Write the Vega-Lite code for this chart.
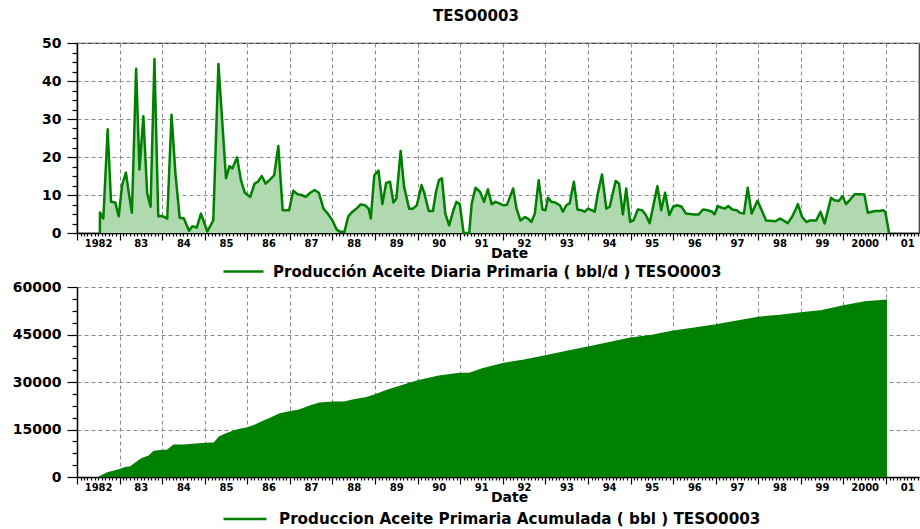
{
  "$schema": "https://vega.github.io/schema/vega-lite/v6.json",
  "padding": {"left": 12, "top": 9, "right": 0, "bottom": 0},
  "background": "white",
  "title": {"text": "TESO0003", "font": "DejaVu Sans", "fontSize": 15, "fontWeight": "bold", "color": "#000", "anchor": "middle", "offset": 11, "dx": 10},
  "config": {
    "axis": {"labelFont": "DejaVu Sans", "labelFontWeight": "bold", "labelColor": "#000", "domainColor": "#000", "domainWidth": 1.5, "tickColor": "#000", "tickWidth": 1.2, "gridColor": "#8a8a8a", "gridDash": [4, 3], "gridWidth": 1, "titleFont": "DejaVu Sans", "titleFontWeight": "bold", "titleColor": "#000"}
  },
  "datasets": {
    "daily": [
      {"date": "1982-07-16", "v": 0}, {"date": "1982-07-17", "v": 5.4}, {"date": "1982-08-15", "v": 3.8}, {"date": "1982-09-21", "v": 27.3}, {"date": "1982-10-20", "v": 8.2}, {"date": "1982-11-25", "v": 8.0}, {"date": "1982-12-25", "v": 4.4},
      {"date": "1983-01-23", "v": 12.6}, {"date": "1983-02-25", "v": 15.9}, {"date": "1983-03-19", "v": 11.0}, {"date": "1983-04-17", "v": 5.3}, {"date": "1983-05-23", "v": 43.2}, {"date": "1983-06-21", "v": 16.7}, {"date": "1983-07-24", "v": 30.7}, {"date": "1983-08-26", "v": 10.4}, {"date": "1983-09-24", "v": 6.9}, {"date": "1983-10-27", "v": 45.8}, {"date": "1983-11-29", "v": 4.4},
      {"date": "1984-01-01", "v": 4.5}, {"date": "1984-02-14", "v": 3.8}, {"date": "1984-03-22", "v": 31.1}, {"date": "1984-04-24", "v": 15.7}, {"date": "1984-05-31", "v": 4.0}, {"date": "1984-07-06", "v": 3.8}, {"date": "1984-08-19", "v": 0.6}, {"date": "1984-09-17", "v": 1.8}, {"date": "1984-10-24", "v": 1.4}, {"date": "1984-11-29", "v": 5.1},
      {"date": "1985-01-23", "v": 0.4}, {"date": "1985-03-15", "v": 3.3}, {"date": "1985-04-28", "v": 44.5}, {"date": "1985-07-02", "v": 14.4}, {"date": "1985-08-01", "v": 17.6}, {"date": "1985-08-26", "v": 17.0}, {"date": "1985-10-05", "v": 19.9}, {"date": "1985-11-07", "v": 13.9}, {"date": "1985-12-10", "v": 10.6},
      {"date": "1986-01-26", "v": 9.5}, {"date": "1986-03-04", "v": 13.0}, {"date": "1986-04-02", "v": 13.5}, {"date": "1986-05-05", "v": 15.0}, {"date": "1986-06-07", "v": 13.0}, {"date": "1986-07-10", "v": 13.9}, {"date": "1986-08-19", "v": 15.2}, {"date": "1986-09-24", "v": 22.9}, {"date": "1986-10-31", "v": 6.0}, {"date": "1986-12-25", "v": 6.0},
      {"date": "1987-01-30", "v": 11.1}, {"date": "1987-03-08", "v": 10.2}, {"date": "1987-04-10", "v": 10.0}, {"date": "1987-05-16", "v": 9.5}, {"date": "1987-06-25", "v": 10.6}, {"date": "1987-08-01", "v": 11.3}, {"date": "1987-09-06", "v": 10.6}, {"date": "1987-10-16", "v": 6.4}, {"date": "1987-11-22", "v": 5.1},
      {"date": "1988-01-01", "v": 3.3}, {"date": "1988-02-06", "v": 0.9}, {"date": "1988-03-08", "v": 0.3}, {"date": "1988-04-13", "v": 0.3}, {"date": "1988-05-16", "v": 4.4}, {"date": "1988-06-21", "v": 5.6}, {"date": "1988-07-24", "v": 6.4}, {"date": "1988-08-30", "v": 7.5}, {"date": "1988-10-05", "v": 7.3}, {"date": "1988-11-07", "v": 6.4}, {"date": "1988-11-25", "v": 3.8}, {"date": "1988-12-25", "v": 15.2},
      {"date": "1989-01-30", "v": 16.4}, {"date": "1989-03-04", "v": 7.6}, {"date": "1989-04-06", "v": 13.2}, {"date": "1989-05-09", "v": 13.5}, {"date": "1989-06-07", "v": 8.0}, {"date": "1989-07-02", "v": 9.0}, {"date": "1989-08-08", "v": 21.6}, {"date": "1989-09-06", "v": 12.2}, {"date": "1989-10-20", "v": 6.4}, {"date": "1989-11-22", "v": 6.4}, {"date": "1989-12-25", "v": 7.3},
      {"date": "1990-02-03", "v": 12.6}, {"date": "1990-02-28", "v": 10.4}, {"date": "1990-04-06", "v": 5.8}, {"date": "1990-05-12", "v": 5.8}, {"date": "1990-06-07", "v": 10.8}, {"date": "1990-07-02", "v": 13.9}, {"date": "1990-07-28", "v": 14.4}, {"date": "1990-08-26", "v": 5.1}, {"date": "1990-09-28", "v": 2.0}, {"date": "1990-11-04", "v": 6.0}, {"date": "1990-11-29", "v": 8.2}, {"date": "1990-12-28", "v": 7.6},
      {"date": "1991-01-30", "v": 0}, {"date": "1991-03-19", "v": 0}, {"date": "1991-04-10", "v": 7.8}, {"date": "1991-05-12", "v": 11.9}, {"date": "1991-06-21", "v": 10.8}, {"date": "1991-07-24", "v": 8.2}, {"date": "1991-08-26", "v": 11.5}, {"date": "1991-09-28", "v": 7.6}, {"date": "1991-10-31", "v": 8.2}, {"date": "1991-12-03", "v": 7.8},
      {"date": "1992-01-04", "v": 7.3}, {"date": "1992-02-06", "v": 7.4}, {"date": "1992-03-30", "v": 11.7}, {"date": "1992-04-28", "v": 6.4}, {"date": "1992-05-31", "v": 3.3}, {"date": "1992-07-10", "v": 4.2}, {"date": "1992-08-04", "v": 3.8}, {"date": "1992-09-02", "v": 2.9}, {"date": "1992-10-02", "v": 5.1}, {"date": "1992-11-04", "v": 13.9}, {"date": "1992-12-06", "v": 6.2},
      {"date": "1993-01-01", "v": 6.0}, {"date": "1993-01-23", "v": 9.3}, {"date": "1993-02-21", "v": 8.2}, {"date": "1993-03-26", "v": 8.0}, {"date": "1993-05-05", "v": 7.3}, {"date": "1993-05-31", "v": 5.6}, {"date": "1993-06-29", "v": 7.3}, {"date": "1993-07-28", "v": 7.8}, {"date": "1993-09-02", "v": 13.5}, {"date": "1993-10-02", "v": 6.2}, {"date": "1993-11-04", "v": 6.0}, {"date": "1993-12-03", "v": 5.6},
      {"date": "1994-01-01", "v": 6.4}, {"date": "1994-01-30", "v": 6.0}, {"date": "1994-02-28", "v": 5.6}, {"date": "1994-03-26", "v": 10.4}, {"date": "1994-05-01", "v": 15.4}, {"date": "1994-06-07", "v": 6.4}, {"date": "1994-07-06", "v": 6.9}, {"date": "1994-08-26", "v": 13.7}, {"date": "1994-09-24", "v": 13.0}, {"date": "1994-10-27", "v": 4.9}, {"date": "1994-11-25", "v": 11.7}, {"date": "1994-12-28", "v": 2.9},
      {"date": "1995-01-26", "v": 3.3}, {"date": "1995-03-04", "v": 6.2}, {"date": "1995-04-10", "v": 6.0}, {"date": "1995-05-09", "v": 4.9}, {"date": "1995-06-14", "v": 2.6}, {"date": "1995-08-19", "v": 12.3}, {"date": "1995-09-21", "v": 6.0}, {"date": "1995-10-24", "v": 10.6}, {"date": "1995-11-29", "v": 4.7},
      {"date": "1996-01-01", "v": 6.9}, {"date": "1996-02-06", "v": 7.3}, {"date": "1996-03-15", "v": 6.9}, {"date": "1996-04-20", "v": 5.1}, {"date": "1996-07-02", "v": 4.9}, {"date": "1996-08-08", "v": 4.9}, {"date": "1996-09-13", "v": 6.2}, {"date": "1996-10-24", "v": 6.0}, {"date": "1996-11-29", "v": 5.6}, {"date": "1996-12-21", "v": 4.9},
      {"date": "1997-01-19", "v": 7.1}, {"date": "1997-02-17", "v": 6.7}, {"date": "1997-03-19", "v": 6.4}, {"date": "1997-04-17", "v": 7.1}, {"date": "1997-05-23", "v": 6.2}, {"date": "1997-06-29", "v": 6.0}, {"date": "1997-07-28", "v": 5.3}, {"date": "1997-08-30", "v": 5.1}, {"date": "1997-10-02", "v": 11.9}, {"date": "1997-11-04", "v": 5.1}, {"date": "1997-12-25", "v": 8.5},
      {"date": "1998-01-30", "v": 6.0}, {"date": "1998-03-08", "v": 3.3}, {"date": "1998-04-13", "v": 3.2}, {"date": "1998-05-27", "v": 3.1}, {"date": "1998-07-06", "v": 3.8}, {"date": "1998-08-04", "v": 3.3}, {"date": "1998-09-10", "v": 2.6}, {"date": "1998-10-16", "v": 4.2}, {"date": "1998-11-14", "v": 6.0}, {"date": "1998-12-06", "v": 7.6},
      {"date": "1999-01-12", "v": 4.2}, {"date": "1999-02-17", "v": 2.9}, {"date": "1999-03-22", "v": 3.3}, {"date": "1999-05-12", "v": 3.3}, {"date": "1999-06-18", "v": 5.6}, {"date": "1999-07-24", "v": 2.5}, {"date": "1999-09-17", "v": 9.3}, {"date": "1999-10-16", "v": 8.6}, {"date": "1999-11-22", "v": 8.4}, {"date": "1999-12-25", "v": 9.7},
      {"date": "2000-01-23", "v": 7.6}, {"date": "2000-02-28", "v": 8.8}, {"date": "2000-04-06", "v": 10.2}, {"date": "2000-05-16", "v": 10.2}, {"date": "2000-06-29", "v": 10.1}, {"date": "2000-07-28", "v": 5.3}, {"date": "2000-08-30", "v": 5.6}, {"date": "2000-10-05", "v": 5.8}, {"date": "2000-11-04", "v": 5.8}, {"date": "2000-12-03", "v": 6.0}, {"date": "2000-12-25", "v": 5.6},
      {"date": "2001-01-26", "v": 0}
    ],
    "cum": [
      {"date": "1982-07-10", "c": 0}, {"date": "1982-09-21", "c": 1300}, {"date": "1982-11-14", "c": 1800}, {"date": "1983-01-01", "c": 2300}, {"date": "1983-02-17", "c": 2900}, {"date": "1983-04-06", "c": 3200}, {"date": "1983-05-20", "c": 4400}, {"date": "1983-07-13", "c": 5800}, {"date": "1983-09-10", "c": 6600}, {"date": "1983-10-24", "c": 8100},
      {"date": "1984-01-01", "c": 8400}, {"date": "1984-02-14", "c": 8400}, {"date": "1984-04-10", "c": 10000}, {"date": "1984-07-06", "c": 10000}, {"date": "1984-09-13", "c": 10300}, {"date": "1984-12-10", "c": 10500},
      {"date": "1985-03-22", "c": 10700}, {"date": "1985-05-05", "c": 12600}, {"date": "1985-06-29", "c": 13500}, {"date": "1985-09-10", "c": 14500}, {"date": "1985-11-07", "c": 15100},
      {"date": "1986-01-01", "c": 15500}, {"date": "1986-03-04", "c": 16300}, {"date": "1986-05-09", "c": 17400}, {"date": "1986-07-21", "c": 18600}, {"date": "1986-10-02", "c": 19800}, {"date": "1986-12-25", "c": 20500},
      {"date": "1987-03-22", "c": 21100}, {"date": "1987-07-02", "c": 22500}, {"date": "1987-09-13", "c": 23300},
      {"date": "1988-01-01", "c": 23600}, {"date": "1988-04-20", "c": 23700}, {"date": "1988-07-02", "c": 24300}, {"date": "1988-10-20", "c": 25000},
      {"date": "1989-01-01", "c": 25900}, {"date": "1989-04-20", "c": 27400}, {"date": "1989-08-08", "c": 28700},
      {"date": "1990-01-01", "c": 30300}, {"date": "1990-07-02", "c": 31800}, {"date": "1990-12-28", "c": 32700},
      {"date": "1991-03-22", "c": 32700}, {"date": "1991-07-02", "c": 34000},
      {"date": "1992-01-01", "c": 35800}, {"date": "1992-07-02", "c": 36900},
      {"date": "1993-01-01", "c": 38200}, {"date": "1993-07-02", "c": 39600},
      {"date": "1994-01-01", "c": 41000}, {"date": "1994-07-02", "c": 42400},
      {"date": "1995-01-01", "c": 43800}, {"date": "1995-07-02", "c": 44700},
      {"date": "1996-01-01", "c": 46000}, {"date": "1996-07-02", "c": 47000},
      {"date": "1997-01-01", "c": 48000}, {"date": "1997-07-02", "c": 49200},
      {"date": "1998-01-01", "c": 50400}, {"date": "1998-07-02", "c": 51000},
      {"date": "1999-01-01", "c": 51800}, {"date": "1999-07-02", "c": 52500},
      {"date": "2000-01-01", "c": 54000}, {"date": "2000-07-02", "c": 55300}, {"date": "2001-01-08", "c": 55800}
    ]
  },
  "vconcat": [
    {
      "width": 842,
      "height": 190,
      "view": {"stroke": "#333", "strokeWidth": 1.2},
      "data": {"name": "daily"},
      "encoding": {
        "x": {
          "field": "date", "type": "temporal",
          "scale": {"type": "utc", "domain": [{"year": 1982, "month": 1, "date": 1, "utc": true}, {"year": 2001, "month": 10, "date": 10, "utc": true}]},
          "axis": {
            "title": "Date", "titleFontSize": 14, "titleX": 432, "titleY": 24, "titleBaseline": "alphabetic",
            "tickCount": {"interval": "month", "step": 1},
            "labelExpr": "utcmonth(datum.value)==6 ? ((utcyear(datum.value)==1982 || utcyear(datum.value)==2000) ? utcFormat(datum.value,'%Y') : utcFormat(datum.value,'%y')) : ''",
            "labelOverlap": false, "labelFlush": false, "labelBound": false, "labelFontSize": 10, "labelPadding": 2,
            "grid": true,
            "gridOpacity": {"condition": {"test": "utcmonth(datum.value)==0", "value": 1}, "value": 0},
            "tickSize": {"condition": {"test": "utcmonth(datum.value)==0", "value": 7}, "value": 3}
          }
        },
        "y": {
          "field": "v", "type": "quantitative",
          "scale": {"domain": [0, 50], "nice": false},
          "axis": {
            "title": null, "values": [0, 2.5, 5, 7.5, 10, 12.5, 15, 17.5, 20, 22.5, 25, 27.5, 30, 32.5, 35, 37.5, 40, 42.5, 45, 47.5, 50],
            "labelExpr": "datum.value % 10 === 0 ? datum.label : ''", "labelFontSize": 14, "labelPadding": 6,
            "gridOpacity": {"condition": {"test": "datum.value % 10 === 0", "value": 1}, "value": 0},
            "tickSize": {"condition": {"test": "datum.value % 10 === 0", "value": 10}, "value": 5}
          }
        }
      },
      "layer": [
        {"mark": {"type": "area", "color": "#b0d9b0"}},
        {
          "mark": {"type": "line", "strokeWidth": 2.5, "strokeJoin": "round"},
          "encoding": {
            "color": {
              "datum": "Producción Aceite Diaria Primaria ( bbl/d ) TESO0003", "type": "nominal",
              "scale": {"range": ["#008000"]},
              "legend": {"orient": "none", "legendX": 145, "legendY": 207, "title": null, "symbolType": "stroke", "symbolSize": 1600, "symbolStrokeWidth": 2.5, "labelFont": "DejaVu Sans", "labelFontWeight": "bold", "labelFontSize": 15, "labelColor": "#000", "labelLimit": 1000, "labelOffset": 8}
            }
          }
        }
      ]
    },
    {
      "width": 842,
      "height": 190,
      "view": {"stroke": null},
      "data": {"name": "cum"},
      "encoding": {
        "x": {
          "field": "date", "type": "temporal",
          "scale": {"type": "utc", "domain": [{"year": 1982, "month": 1, "date": 1, "utc": true}, {"year": 2001, "month": 10, "date": 10, "utc": true}]},
          "axis": {
            "title": "Date", "titleFontSize": 14, "titleX": 432, "titleY": 24, "titleBaseline": "alphabetic",
            "tickCount": {"interval": "month", "step": 1},
            "labelExpr": "utcmonth(datum.value)==6 ? ((utcyear(datum.value)==1982 || utcyear(datum.value)==2000) ? utcFormat(datum.value,'%Y') : utcFormat(datum.value,'%y')) : ''",
            "labelOverlap": false, "labelFlush": false, "labelBound": false, "labelFontSize": 10, "labelPadding": 2,
            "grid": true,
            "gridOpacity": {"condition": {"test": "utcmonth(datum.value)==0", "value": 1}, "value": 0},
            "tickSize": {"condition": {"test": "utcmonth(datum.value)==0", "value": 7}, "value": 3}
          }
        },
        "y": {
          "field": "c", "type": "quantitative",
          "scale": {"domain": [0, 60000], "nice": false},
          "axis": {
            "title": null, "values": [0, 3750, 7500, 11250, 15000, 18750, 22500, 26250, 30000, 33750, 37500, 41250, 45000, 48750, 52500, 56250, 60000],
            "labelExpr": "datum.value % 15000 === 0 ? datum.value : ''", "labelFontSize": 14, "labelPadding": 6,
            "gridOpacity": {"condition": {"test": "datum.value % 15000 === 0", "value": 1}, "value": 0},
            "tickSize": {"condition": {"test": "datum.value % 15000 === 0", "value": 10}, "value": 5}
          }
        }
      },
      "layer": [
        {"mark": {"type": "area", "color": "#008000"}},
        {
          "mark": {"type": "line", "strokeWidth": 1.5},
          "encoding": {
            "color": {
              "datum": "Produccion Aceite Primaria Acumulada ( bbl ) TESO0003", "type": "nominal",
              "scale": {"range": ["#008000"]},
              "legend": {"orient": "none", "legendX": 145, "legendY": 209, "title": null, "symbolType": "stroke", "symbolSize": 1849, "symbolStrokeWidth": 2.5, "labelFont": "DejaVu Sans", "labelFontWeight": "bold", "labelFontSize": 15.2, "labelColor": "#000", "labelLimit": 1000, "labelOffset": 11}
            }
          }
        }
      ]
    }
  ],
  "spacing": 54,
  "bounds": "flush",
  "resolve": {"scale": {"color": "independent"}, "legend": {"color": "independent"}}
}
